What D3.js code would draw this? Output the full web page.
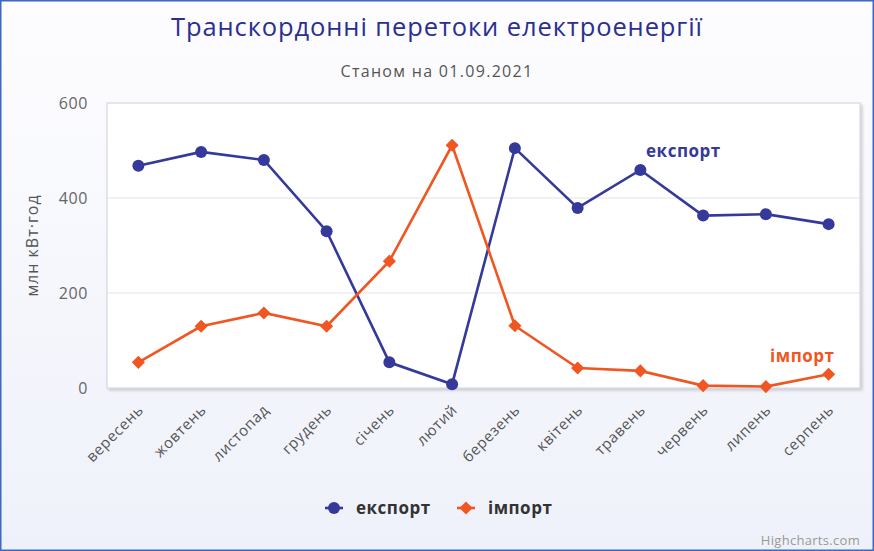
<!DOCTYPE html>
<html><head><meta charset="utf-8">
<script src="https://cdn.jsdelivr.net/npm/d3@7"></script>
<style>html,body{margin:0;padding:0;background:#fff}svg{display:block}</style>
</head><body>
<script>
const categories = ["вересень","жовтень","листопад","грудень","січень","лютий","березень","квітень","травень","червень","липень","серпень"];
const exportValues = [468, 497, 480, 330, 54, 8, 505, 379, 459, 363, 366, 345];
const importValues = [54, 130, 158, 130, 267, 511, 131, 42, 36, 5, 3, 29];
const yTicks = [0, 200, 400, 600];
const seriesNames = ["експорт", "імпорт"];
const titleText = "Транскордонні перетоки електроенергії";
const subtitleText = "Станом на 01.09.2021";
const yAxisTitle = "млн кВт·год";

const W = 874, H = 551;
const m = {l:107, r:860, t:103, b:388};
const navy = "#35399a", orange = "#f05622";
const font = "'Open Sans', 'Noto Sans', sans-serif";

const svg = d3.select("body").append("svg").attr("width", W).attr("height", H);
const defs = svg.append("defs");
const g1 = defs.append("linearGradient").attr("id","bg").attr("x1",0).attr("y1",0).attr("x2",0).attr("y2",1);
g1.append("stop").attr("offset","0%").attr("stop-color","#fdfdff");
g1.append("stop").attr("offset","100%").attr("stop-color","#eff1fa");
const f = defs.append("filter").attr("id","sh").attr("x","-5%").attr("y","-5%").attr("width","110%").attr("height","115%");
f.append("feDropShadow").attr("dx",2).attr("dy",2).attr("stdDeviation",1.5).attr("flood-color","#000").attr("flood-opacity",0.18);

svg.append("rect").attr("x",0.75).attr("y",0.75).attr("width",W-1.5).attr("height",H-1.5)
  .attr("fill","url(#bg)").attr("stroke","#3a68c4").attr("stroke-width",1.5);

const x = d3.scaleBand().domain(categories).range([m.l, m.r]);
const y = d3.scaleLinear().domain([0, 600]).range([m.b, m.t]);

svg.append("rect").attr("x",m.l).attr("y",m.t).attr("width",m.r-m.l).attr("height",m.b-m.t)
  .attr("fill","#fff").attr("stroke","#d0d0d8").attr("stroke-width",1).attr("filter","url(#sh)");

// grid
svg.append("g").selectAll("line").data(yTicks.filter(d=>d>0 && d<600)).join("line")
  .attr("x1",m.l).attr("x2",m.r).attr("y1",d=>y(d)).attr("y2",d=>y(d))
  .attr("stroke","#e3e3e6").attr("stroke-width",1);

// y axis
const ya = svg.append("g").attr("transform",`translate(${m.l},0)`)
  .call(d3.axisLeft(y).tickValues(yTicks).tickSize(0).tickPadding(19));
ya.select(".domain").remove();
ya.selectAll("text").attr("font-family",font).attr("font-size",16).attr("letter-spacing",0.6).attr("fill","#666");

svg.append("text").attr("transform",`translate(38,${(m.t+m.b)/2}) rotate(-90)`)
  .attr("text-anchor","middle").attr("font-family",font).attr("font-size",16).attr("letter-spacing",1)
  .attr("fill","#555").text(yAxisTitle);

// x axis
const xa = svg.append("g").attr("transform",`translate(0,${m.b})`)
  .call(d3.axisBottom(x).tickSize(0).tickPadding(0));
xa.select(".domain").remove();
xa.selectAll("text").attr("font-family",font).attr("font-size",15).attr("letter-spacing",0.6).attr("fill","#555")
  .attr("text-anchor","end").attr("dy",0).attr("y",0)
  .attr("transform","translate(6,23) rotate(-45)");

// lines
const cx = d => x(d) + x.bandwidth()/2;
const lineGen = d3.line().x(d=>cx(d.c)).y(d=>y(d.v));
const expData = categories.map((c,i)=>({c, v:exportValues[i]}));
const impData = categories.map((c,i)=>({c, v:importValues[i]}));

svg.append("path").datum(expData).attr("d",lineGen).attr("fill","none").attr("stroke",navy).attr("stroke-width",2.6);
svg.append("path").datum(impData).attr("d",lineGen).attr("fill","none").attr("stroke",orange).attr("stroke-width",2.6);

svg.append("g").selectAll("circle").data(expData).join("circle")
  .attr("cx",d=>cx(d.c)).attr("cy",d=>y(d.v)).attr("r",6).attr("fill",navy);
const diamond = d3.symbol().type(d3.symbolDiamond2).size(110);
svg.append("g").selectAll("path").data(impData).join("path")
  .attr("transform",d=>`translate(${cx(d.c)},${y(d.v)})`).attr("d",diamond).attr("fill",orange);

// series labels
svg.append("text").attr("x",cx(categories[8])+43).attr("y",y(exportValues[8])-13)
  .attr("text-anchor","middle").attr("font-family",font).attr("font-weight","bold").attr("font-size",17)
  .attr("letter-spacing",0.5).attr("fill",navy).text(seriesNames[0]);
svg.append("text").attr("x",(cx(categories[10])+cx(categories[11]))/2+5).attr("y",y(importValues[11])-12)
  .attr("text-anchor","middle").attr("font-family",font).attr("font-weight","bold").attr("font-size",17)
  .attr("letter-spacing",0.5).attr("fill",orange).text(seriesNames[1]);

// title
svg.append("text").attr("x",437).attr("y",36).attr("text-anchor","middle")
  .attr("font-family",font).attr("font-size",25.5).attr("letter-spacing",0.9).attr("fill","#2b2f8f").text(titleText);
svg.append("text").attr("x",437).attr("y",77).attr("text-anchor","middle")
  .attr("font-family",font).attr("font-size",16).attr("letter-spacing",1.3).attr("fill","#555").text(subtitleText);

// legend
const leg = svg.append("g");
const items = [{name:seriesNames[0], color:navy, type:"circle", x:325},{name:seriesNames[1], color:orange, type:"diamond", x:457}];
items.forEach(it=>{
  leg.append("line").attr("x1",it.x).attr("x2",it.x+18).attr("y1",508).attr("y2",508).attr("stroke",it.color).attr("stroke-width",2.6);
  if(it.type==="circle") leg.append("circle").attr("cx",it.x+9).attr("cy",508).attr("r",6).attr("fill",it.color);
  else leg.append("path").attr("transform",`translate(${it.x+9},508)`).attr("d",diamond).attr("fill",it.color);
  leg.append("text").attr("x",it.x+31).attr("y",514).attr("font-family",font).attr("font-weight","bold")
    .attr("font-size",17).attr("letter-spacing",0.5).attr("fill","#333").text(it.name);
});

svg.append("text").attr("x",860).attr("y",545).attr("text-anchor","end").attr("font-family",font)
  .attr("font-size",13).attr("letter-spacing",0.3).attr("fill","#999").text("Highcharts.com");
</script>
</body></html>
